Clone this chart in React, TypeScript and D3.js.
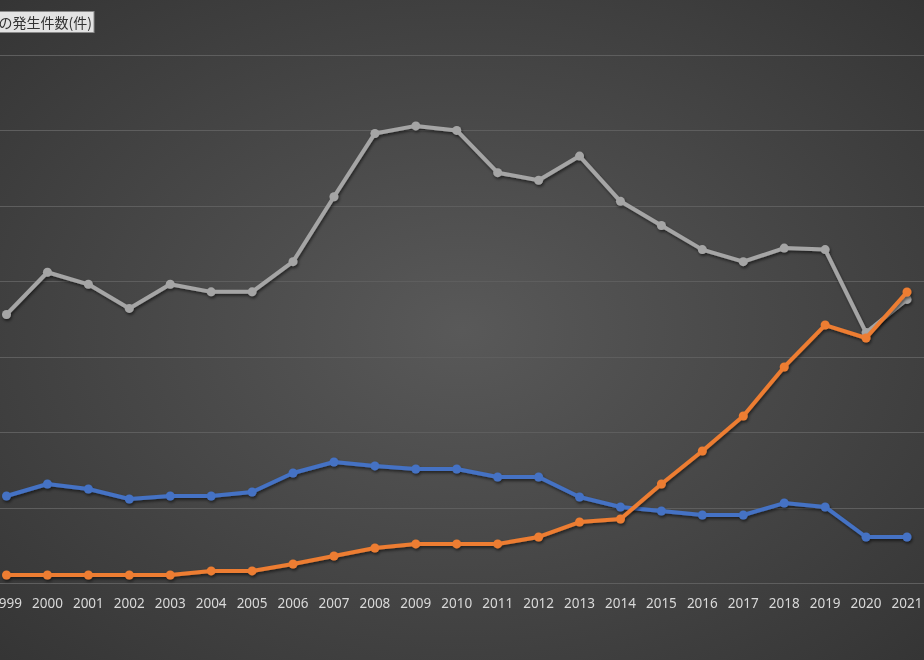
import * as d3 from 'd3';
import { useEffect, useRef } from 'react';

const years = [
  1999, 2000, 2001, 2002, 2003, 2004, 2005, 2006, 2007, 2008, 2009, 2010,
  2011, 2012, 2013, 2014, 2015, 2016, 2017, 2018, 2019, 2020, 2021,
];

const grayValues = [
  1780, 2060, 1980, 1820, 1980, 1930, 1930, 2130, 2560, 2980, 3030, 3000,
  2720, 2670, 2830, 2530, 2370, 2210, 2130, 2220, 2210, 1660, 1880,
];

const blueValues = [
  577, 656, 623, 557, 577, 577, 603, 729, 802, 776, 756, 756,
  703, 703, 570, 504, 477, 451, 451, 530, 504, 305, 305,
];

const orangeValues = [
  53, 53, 53, 53, 53, 80, 80, 126, 179, 232, 259, 259,
  259, 305, 404, 424, 656, 875, 1107, 1432, 1710, 1624, 1929,
];

const yTicks = [0, 500, 1000, 1500, 2000, 2500, 3000, 3500];

const titleText = 'の発生件数(件)';

export default function App() {
  const ref = useRef<SVGSVGElement | null>(null);

  useEffect(() => {
    if (!ref.current) return;
    const width = 924;
    const height = 660;

    const svg = d3.select(ref.current).attr('viewBox', `0 0 ${width} ${height}`);
    svg.selectAll('*').remove();

    const defs = svg.append('defs');
    const grad = defs
      .append('radialGradient')
      .attr('id', 'bg')
      .attr('cx', '50%')
      .attr('cy', '50%')
      .attr('r', '90%');
    grad.append('stop').attr('offset', '0%').attr('stop-color', '#595959');
    grad.append('stop').attr('offset', '100%').attr('stop-color', '#2b2b2b');

    const shadow = defs
      .append('filter')
      .attr('id', 'shadow')
      .attr('x', '-10%')
      .attr('y', '-10%')
      .attr('width', '120%')
      .attr('height', '120%');
    shadow
      .append('feDropShadow')
      .attr('dx', 1)
      .attr('dy', 2)
      .attr('stdDeviation', 1.5)
      .attr('flood-color', '#000')
      .attr('flood-opacity', 0.55);

    svg
      .append('rect')
      .attr('width', width)
      .attr('height', height)
      .attr('fill', 'url(#bg)');

    /* ---------- scales ---------- */

    const x = d3.scalePoint<number>().domain(years).range([6.5, 907]);
    const y = d3.scaleLinear().domain([0, 3500]).range([583, 55]);

    /* ---------- gridlines ---------- */

    svg
      .append('g')
      .selectAll('line')
      .data(yTicks)
      .enter()
      .append('line')
      .attr('x1', 0)
      .attr('x2', width)
      .attr('y1', (d) => Math.round(y(d)) + 0.5)
      .attr('y2', (d) => Math.round(y(d)) + 0.5)
      .attr('stroke', '#5e5e5e')
      .attr('stroke-width', 1);

    /* ---------- x axis labels ---------- */

    svg
      .append('g')
      .selectAll('text')
      .data(years)
      .enter()
      .append('text')
      .attr('x', (d) => x(d)!)
      .attr('y', 608)
      .attr('text-anchor', 'middle')
      .attr('fill', '#d9d9d9')
      .attr('font-family', '"Noto Sans", "DejaVu Sans", sans-serif')
      .attr('font-size', 13.5)
      .text((d) => String(d));

    /* ---------- series ---------- */

    const series = [
      { name: 'gray', color: '#a5a5a5', values: grayValues },
      { name: 'blue', color: '#4472c4', values: blueValues },
      { name: 'orange', color: '#ed7d31', values: orangeValues },
    ];

    const line = d3
      .line<number>()
      .x((_, i) => x(years[i])!)
      .y((d) => y(d));

    series.forEach((s) => {
      const g = svg.append('g').attr('filter', 'url(#shadow)');
      g.append('path')
        .datum(s.values)
        .attr('d', line)
        .attr('fill', 'none')
        .attr('stroke', s.color)
        .attr('stroke-width', 4)
        .attr('stroke-linejoin', 'round');
      g.selectAll('circle')
        .data(s.values)
        .enter()
        .append('circle')
        .attr('cx', (_, i) => x(years[i])!)
        .attr('cy', (d) => y(d))
        .attr('r', 4.5)
        .attr('fill', s.color);
    });

    /* ---------- title box ---------- */

    const title = svg.append('g');
    title
      .append('rect')
      .attr('x', -4)
      .attr('y', 11.5)
      .attr('width', 98)
      .attr('height', 21)
      .attr('fill', '#e3e3e3')
      .attr('stroke', '#8a8a8a')
      .attr('stroke-width', 1);
    title
      .append('text')
      .attr('x', 92)
      .attr('y', 27.5)
      .attr('text-anchor', 'end')
      .attr('fill', '#333')
      .attr('font-family', '"Noto Sans CJK JP", sans-serif')
      .attr('font-size', 14)
      .text(titleText);
  }, []);

  return (
    <div style={{ position: 'fixed', left: 0, top: 0, width: 924, height: 660 }}>
      <svg ref={ref} width={924} height={660} style={{ display: 'block' }} />
    </div>
  );
}
